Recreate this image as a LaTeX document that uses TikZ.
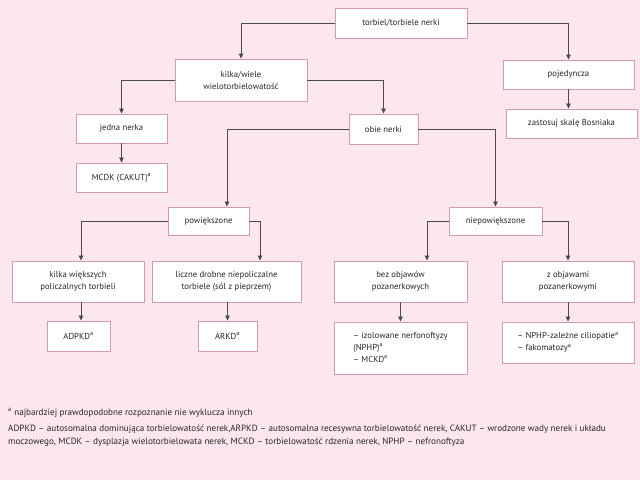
\documentclass[tikz,border=0pt]{standalone}
\usepackage{fontspec}
\setmainfont{PT Sans}
\usetikzlibrary{arrows.meta}
\definecolor{bgpink}{HTML}{FCE7ED}
\definecolor{boxline}{HTML}{D49BB0}
\definecolor{conn}{HTML}{4A4A4A}
\definecolor{txt}{HTML}{262626}
\begin{document}
\begin{tikzpicture}[x=1pt,y=-1pt,
  box/.style={draw=boxline, fill=white, line width=0.9pt, inner sep=2pt,
    align=center, text=txt, font=\fontsize{8.7}{12}\selectfont},
  arr/.style={draw=conn, line width=0.8pt, -{Triangle[length=5pt,width=4.5pt]}},
  foot/.style={anchor=west, inner sep=0pt, text=txt, font=\fontsize{9.1}{11}\selectfont, align=left}]
\fill[bgpink] (0,0) rectangle (640,480);
\useasboundingbox (0,0) rectangle (640,480);

\node[box, minimum width=132pt, minimum height=30pt] (top) at (401,23) {torbiel/torbiele nerki};
\node[box, minimum width=132pt, minimum height=42pt] (kilka) at (241,80) {kilka/wiele\\wielotorbielowatość};
\node[box, minimum width=131pt, minimum height=29pt] (poj) at (568.5,74.5) {pojedyncza};
\node[box, minimum width=131pt, minimum height=29pt] (zast) at (571.5,123.5) {zastosuj skalę Bosniaka};
\node[box, minimum width=91pt, minimum height=29pt] (jedna) at (121.5,128.5) {jedna nerka};
\node[box, minimum width=91pt, minimum height=29pt] (mcdk) at (121.5,177.5) {MCDK (CAKUT)\textsuperscript{a}};
\node[box, minimum width=69pt, minimum height=30pt] (obie) at (383.5,129) {obie nerki};
\node[box, minimum width=81pt, minimum height=28pt] (pow) at (208.5,221) {powiększone};
\node[box, minimum width=93pt, minimum height=28pt] (niep) at (495.5,221) {niepowiększone};
\node[box, minimum width=132pt, minimum height=41pt] (kw) at (78,281.5) {kilka większych\\policzalnych torbieli};
\node[box, minimum width=149pt, minimum height=41pt] (lic) at (226.5,281.5) {liczne drobne niepoliczalne\\torbiele (sól z pieprzem)};
\node[box, minimum width=133pt, minimum height=41pt] (bez) at (400.5,281.5) {bez objawów\\pozanerkowych};
\node[box, minimum width=132pt, minimum height=41pt] (zob) at (568,281.5) {z objawami\\pozanerkowymi};
\node[box, minimum width=63pt, minimum height=30pt] (adpkd) at (78.5,336) {ADPKD\textsuperscript{a}};
\node[box, minimum width=59pt, minimum height=30pt] (arkd) at (227.5,336) {ARKD\textsuperscript{a}};
\node[box, minimum width=133pt, minimum height=52pt] (izol) at (400.5,348) {\begin{tabular}{@{}l@{}}– izolowane nerfonoftyzy\\(NPHP)\textsuperscript{a}\\– MCKD\textsuperscript{a}\end{tabular}};
\node[box, minimum width=132pt, minimum height=41pt] (nphp) at (568,342.5) {\begin{tabular}{@{}l@{}}– NPHP-zależne ciliopatie\textsuperscript{a}\\– fakomatozy\textsuperscript{a}\end{tabular}};

\draw[arr] (top.west) -| (kilka.north);
\draw[arr] (top.east) -| (poj.north);
\draw[arr] (kilka.west) -| (jedna.north);
\draw[arr] (kilka.east) -| (obie.north);
\draw[arr] (jedna.south) -- (mcdk.north);
\draw[arr] (poj.south) -- (poj.south |- zast.north);
\draw[arr] (obie.west) -| ([xshift=18.5pt]pow.north);
\draw[arr] (obie.east) -| (niep.north);
\draw[arr] (pow.west) -| ([xshift=3pt]kw.north);
\draw[arr] (pow.east) -| ([xshift=33.5pt]lic.north);
\draw[arr] ([xshift=3pt]kw.south) -- ([xshift=2.5pt]adpkd.north);
\draw[arr] (arkd.north |- lic.south) -- (arkd.north);
\draw[arr] (niep.west) -| ([xshift=26.5pt]bez.north);
\draw[arr] (niep.east) -| (zob.north);
\draw[arr] (bez.south) -- (izol.north);
\draw[arr] (zob.south) -- (nphp.north);

\node[foot] (fn1) at (8,413) {\textsuperscript{a} najbardziej prawdopodobne rozpoznanie nie wyklucza innych};
\node[foot] (fn2) at (8,429) {ADPKD – autosomalna dominująca torbielowatość nerek,ARPKD – autosomalna recesywna torbielowatość nerek, CAKUT – wrodzone wady nerek i układu};
\node[foot] (fn3) at (8,442) {moczowego, MCDK – dysplazja wielotorbielowata nerek, MCKD – torbielowatość rdzenia nerek, NPHP – nefronoftyza};
\end{tikzpicture}
\end{document}
